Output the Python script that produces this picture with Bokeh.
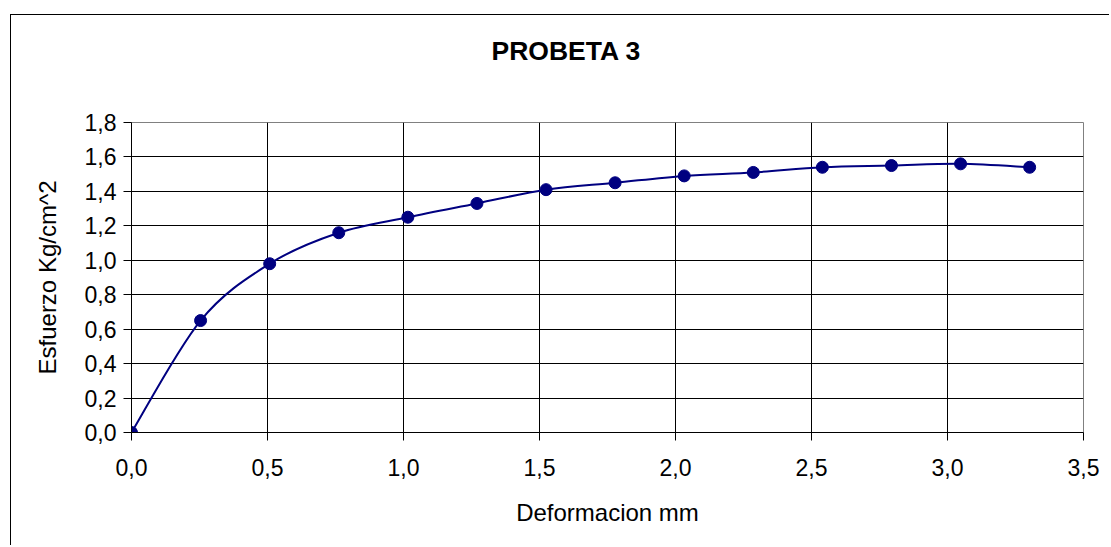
from bokeh.plotting import figure
from bokeh.models import FixedTicker, Range1d, ColumnDataSource, Title
from bokeh.embed import file_html
from bokeh.resources import INLINE

# ---- data ----
deformacion = [0.0, 0.254, 0.508, 0.762, 1.016, 1.27, 1.524, 1.778, 2.032, 2.286, 2.54, 2.794, 3.048, 3.302]
esfuerzo = [0.0, 0.65, 0.98, 1.16, 1.25, 1.33, 1.41, 1.45, 1.49, 1.51, 1.54, 1.55, 1.56, 1.54]
x_ticks = [0.0, 0.5, 1.0, 1.5, 2.0, 2.5, 3.0, 3.5]
x_tick_labels = ["0,0", "0,5", "1,0", "1,5", "2,0", "2,5", "3,0", "3,5"]
y_ticks = [0.0, 0.2, 0.4, 0.6, 0.8, 1.0, 1.2, 1.4, 1.6, 1.8]
y_tick_labels = ["0,0", "0,2", "0,4", "0,6", "0,8", "1,0", "1,2", "1,4", "1,6", "1,8"]
title_text = "PROBETA 3"
x_title = "Deformacion mm"
y_title = "Esfuerzo Kg/cm^2"

FONT = "Liberation Sans"
NAVY = "#000080"

p = figure(width=1099, height=531, output_backend="svg", toolbar_location=None, title=None,
           x_range=Range1d(0, 3.5), y_range=Range1d(0, 1.8),
           min_border_left=120, min_border_right=27, min_border_top=107, min_border_bottom=114)
p.margin = (14, 0, 0, 10)
p.styles = {"border-left": "1.5px solid black", "border-top": "1.5px solid black"}
p.background_fill_color = "white"
p.border_fill_color = "white"
p.outline_line_color = "#808080"
p.outline_line_width = 1

# spacing between plot area and title, then the title itself
p.add_layout(Title(text=" ", text_font=FONT, text_font_size="26.5px", standoff=25), "above")
p.add_layout(Title(text=title_text, align="left", offset=360, text_font=FONT,
                   text_font_size="26.5px", text_font_style="bold", text_color="black",
                   standoff=0), "above")

# axes
for ax in (p.xaxis[0], p.yaxis[0]):
    ax.axis_line_color = "black"
    ax.axis_line_width = 1
    ax.major_tick_line_color = "black"
    ax.major_tick_in = 0
    ax.major_tick_out = 8
    ax.minor_tick_line_color = None
    ax.major_label_text_font = FONT
    ax.major_label_text_font_size = "23px"
    ax.major_label_text_color = "black"
    ax.axis_label_text_font = FONT
    ax.axis_label_text_font_size = "24px"
    ax.axis_label_text_font_style = "normal"
    ax.axis_label_text_color = "black"

p.xaxis.ticker = FixedTicker(ticks=x_ticks)
p.yaxis.ticker = FixedTicker(ticks=y_ticks)
p.xaxis.major_label_overrides = {t: l for t, l in zip(x_ticks, x_tick_labels)}
p.yaxis.major_label_overrides = {t: l for t, l in zip(y_ticks, y_tick_labels)}
p.xaxis.axis_label = x_title
p.yaxis.axis_label = y_title
p.xaxis.major_label_standoff = 18
p.yaxis.major_label_standoff = 7
p.xaxis.axis_label_standoff = 20
p.yaxis.axis_label_standoff = 21

p.grid.grid_line_color = "black"
p.grid.grid_line_width = 1
p.xgrid.ticker = FixedTicker(ticks=x_ticks)
p.ygrid.ticker = FixedTicker(ticks=y_ticks)

# smoothed line (Bezier segments through the data points, Excel-style smoothing)
n = len(deformacion)
x0, y0, x1, y1, cx0, cy0, cx1, cy1 = [], [], [], [], [], [], [], []
for i in range(n - 1):
    xa, ya = deformacion[i], esfuerzo[i]
    xb, yb = deformacion[i + 1], esfuerzo[i + 1]
    xp, yp = (deformacion[i - 1], esfuerzo[i - 1]) if i > 0 else (xa, ya)
    xn, yn = (deformacion[i + 2], esfuerzo[i + 2]) if i + 2 < n else (xb, yb)
    x0.append(xa); y0.append(ya); x1.append(xb); y1.append(yb)
    cx0.append(xa + (xb - xp) / 6.0); cy0.append(ya + (yb - yp) / 6.0)
    cx1.append(xb - (xn - xa) / 6.0); cy1.append(yb - (yn - ya) / 6.0)
seg = ColumnDataSource(dict(x0=x0, y0=y0, x1=x1, y1=y1, cx0=cx0, cy0=cy0, cx1=cx1, cy1=cy1))
p.bezier(x0="x0", y0="y0", x1="x1", y1="y1", cx0="cx0", cy0="cy0", cx1="cx1", cy1="cy1",
         source=seg, line_color=NAVY, line_width=2)

p.scatter(deformacion, esfuerzo, size=12, marker="circle", fill_color=NAVY, line_color=NAVY)

open("out.html", "w").write(file_html(p, INLINE))
